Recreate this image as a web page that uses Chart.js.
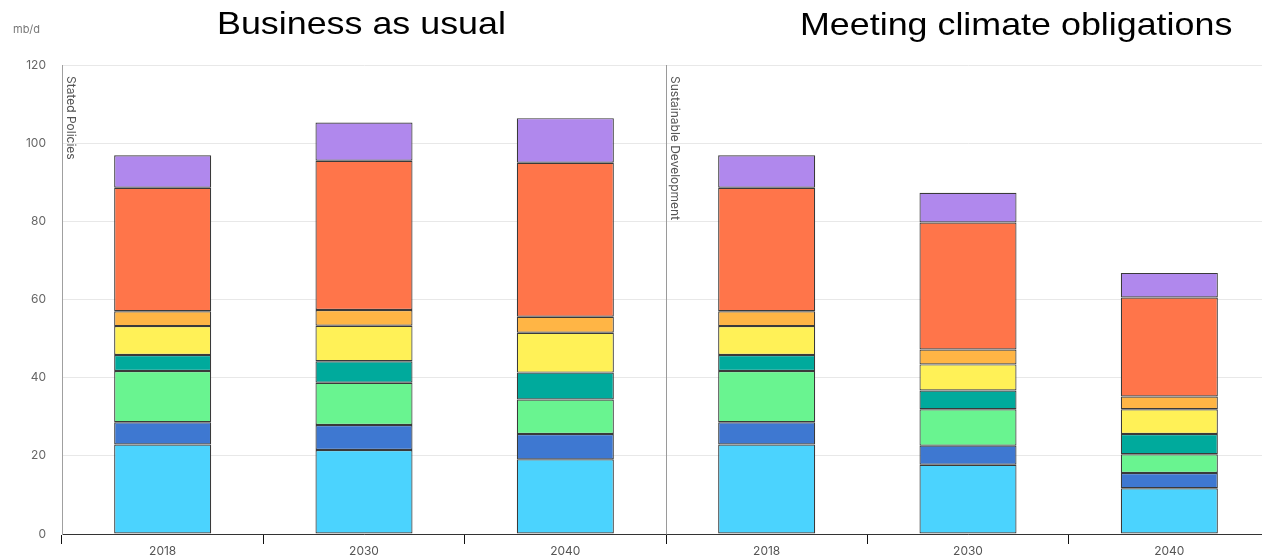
<!DOCTYPE html>
<html>
<head>
<meta charset="utf-8">
<script src="https://cdn.jsdelivr.net/npm/chart.js@4"></script>
<style>
  html, body { margin: 0; padding: 0; background: #fff; overflow: hidden; }
  #wrap { position: relative; width: 1270px; height: 559px; }
  #wrap canvas { position: absolute; left: 0; top: 0; }
  .heading { position: absolute; font-family: "Liberation Sans", Arial, sans-serif; font-size: 32px; line-height: 32px; color: #000; white-space: nowrap; transform: scaleX(1.12); transform-origin: 0 0; }
  .unit { position: absolute; font-family: Inter, "Noto Sans", sans-serif; font-size: 11px; color: #777; white-space: nowrap; }
</style>
</head>
<body>
<div id="wrap">
  <canvas id="chart"></canvas>
  <div class="heading" style="left:217px; top:7px;">Business as usual</div>
  <div class="heading" style="left:800px; top:8px;">Meeting climate obligations</div>
  <div class="unit" style="left:13px; top:22px;">mb/d</div>
</div>
<script>
// Years along the axis; the first three belong to the first scenario, the last three to the second.
const categories = ['2018', '2030', '2040', '2018', '2030', '2040'];
const scenarioNames = ['Stated Policies', 'Sustainable Development'];
const scenarioSize = 3;
const yTicks = [0, 20, 40, 60, 80, 100, 120];

// Stacked segments in mb/d, listed bottom to top.
const cyanSeries   = [22.9, 21.5, 19.1, 22.9, 17.7, 11.7];
const blueSeries   = [5.7, 6.4, 6.5, 5.7, 4.9, 3.9];
const greenSeries  = [13.1, 10.8, 8.8, 13.1, 9.3, 4.8];
const tealSeries   = [4.1, 5.5, 6.9, 4.1, 4.8, 5.2];
const yellowSeries = [7.4, 9.1, 10.2, 7.4, 6.7, 6.3];
const amberSeries  = [3.8, 4.0, 4.1, 3.8, 3.8, 3.3];
const orangeSeries = [31.6, 38.2, 39.4, 31.6, 32.5, 25.3];
const purpleSeries = [8.3, 9.8, 11.4, 8.3, 7.6, 6.3];

const stackOrder = [
  { data: cyanSeries,   color: '#4bd3fe' },
  { data: blueSeries,   color: '#3e78d1' },
  { data: greenSeries,  color: '#69f490' },
  { data: tealSeries,   color: '#00aa9c' },
  { data: yellowSeries, color: '#fff157' },
  { data: amberSeries,  color: '#ffb545' },
  { data: orangeSeries, color: '#ff754a' },
  { data: purpleSeries, color: '#b088ed' }
];

// Vertical divider between the two scenarios, with rotated scenario names.
const scenarioDivider = {
  id: 'scenarioDivider',
  afterDatasetsDraw(chart) {
    const { ctx, chartArea, scales } = chart;
    const x = scales.x;
    const half = (x.getPixelForValue(1) - x.getPixelForValue(0)) / 2;
    const starts = [];
    for (let i = 0; i < categories.length; i += scenarioSize) {
      starts.push(x.getPixelForValue(i) - half);
    }
    ctx.save();
    // divider lines (the first start coincides with the y axis)
    ctx.strokeStyle = '#9a9a9a';
    ctx.lineWidth = 1;
    starts.slice(1).forEach(px => {
      const p = Math.round(px) + 0.5;
      ctx.beginPath();
      ctx.moveTo(p, chartArea.top);
      ctx.lineTo(p, chartArea.bottom);
      ctx.stroke();
    });
    // scenario names
    ctx.fillStyle = '#555';
    ctx.font = '12px Inter, "Noto Sans", sans-serif';
    ctx.textAlign = 'left';
    ctx.textBaseline = 'bottom';
    starts.forEach((px, i) => {
      ctx.save();
      ctx.translate(Math.round(px) + 3, chartArea.top + 11);
      ctx.rotate(Math.PI / 2);
      ctx.fillText(scenarioNames[i], 0, 0);
      ctx.restore();
    });
    ctx.restore();
  }
};

new Chart(document.getElementById('chart'), {
  type: 'bar',
  data: {
    labels: categories,
    datasets: stackOrder.map(s => ({
      data: s.data,
      backgroundColor: s.color,
      borderColor: '#3a3a3a',
      borderWidth: 1.2,
      borderSkipped: false,
      inflateAmount: 0,
      categoryPercentage: 1,
      barPercentage: 0.482
    }))
  },
  options: {
    responsive: true,
    maintainAspectRatio: false,
    animation: false,
    devicePixelRatio: 1,
    layout: { padding: { top: 65, right: 0, bottom: 0, left: 0 } },
    plugins: {
      legend: { display: false },
      tooltip: { enabled: false },
      title: { display: false }
    },
    scales: {
      x: {
        stacked: true,
        grid: {
          display: true,
          drawOnChartArea: false,
          drawTicks: true,
          tickLength: 10,
          color: '#111',
          offset: true
        },
        border: { display: true, color: '#333', width: 1 },
        ticks: {
          color: '#555',
          font: { family: 'Inter, "Noto Sans", sans-serif', size: 12 },
          padding: 0,
          maxRotation: 0
        },
        afterFit(scale) { scale.height = 25; }
      },
      y: {
        stacked: true,
        min: 0,
        max: 120,
        afterBuildTicks(scale) { scale.ticks = yTicks.map(v => ({ value: v })); },
        grid: { color: '#e8e8e8', lineWidth: 1, drawTicks: false },
        border: { display: true, color: '#a0a0a0', width: 1 },
        ticks: {
          color: '#666',
          font: { family: 'Inter, "Noto Sans", sans-serif', size: 12 },
          padding: 16
        },
        afterFit(scale) { scale.width = 62; }
      }
    }
  },
  plugins: [scenarioDivider]
});
</script>
</body>
</html>
